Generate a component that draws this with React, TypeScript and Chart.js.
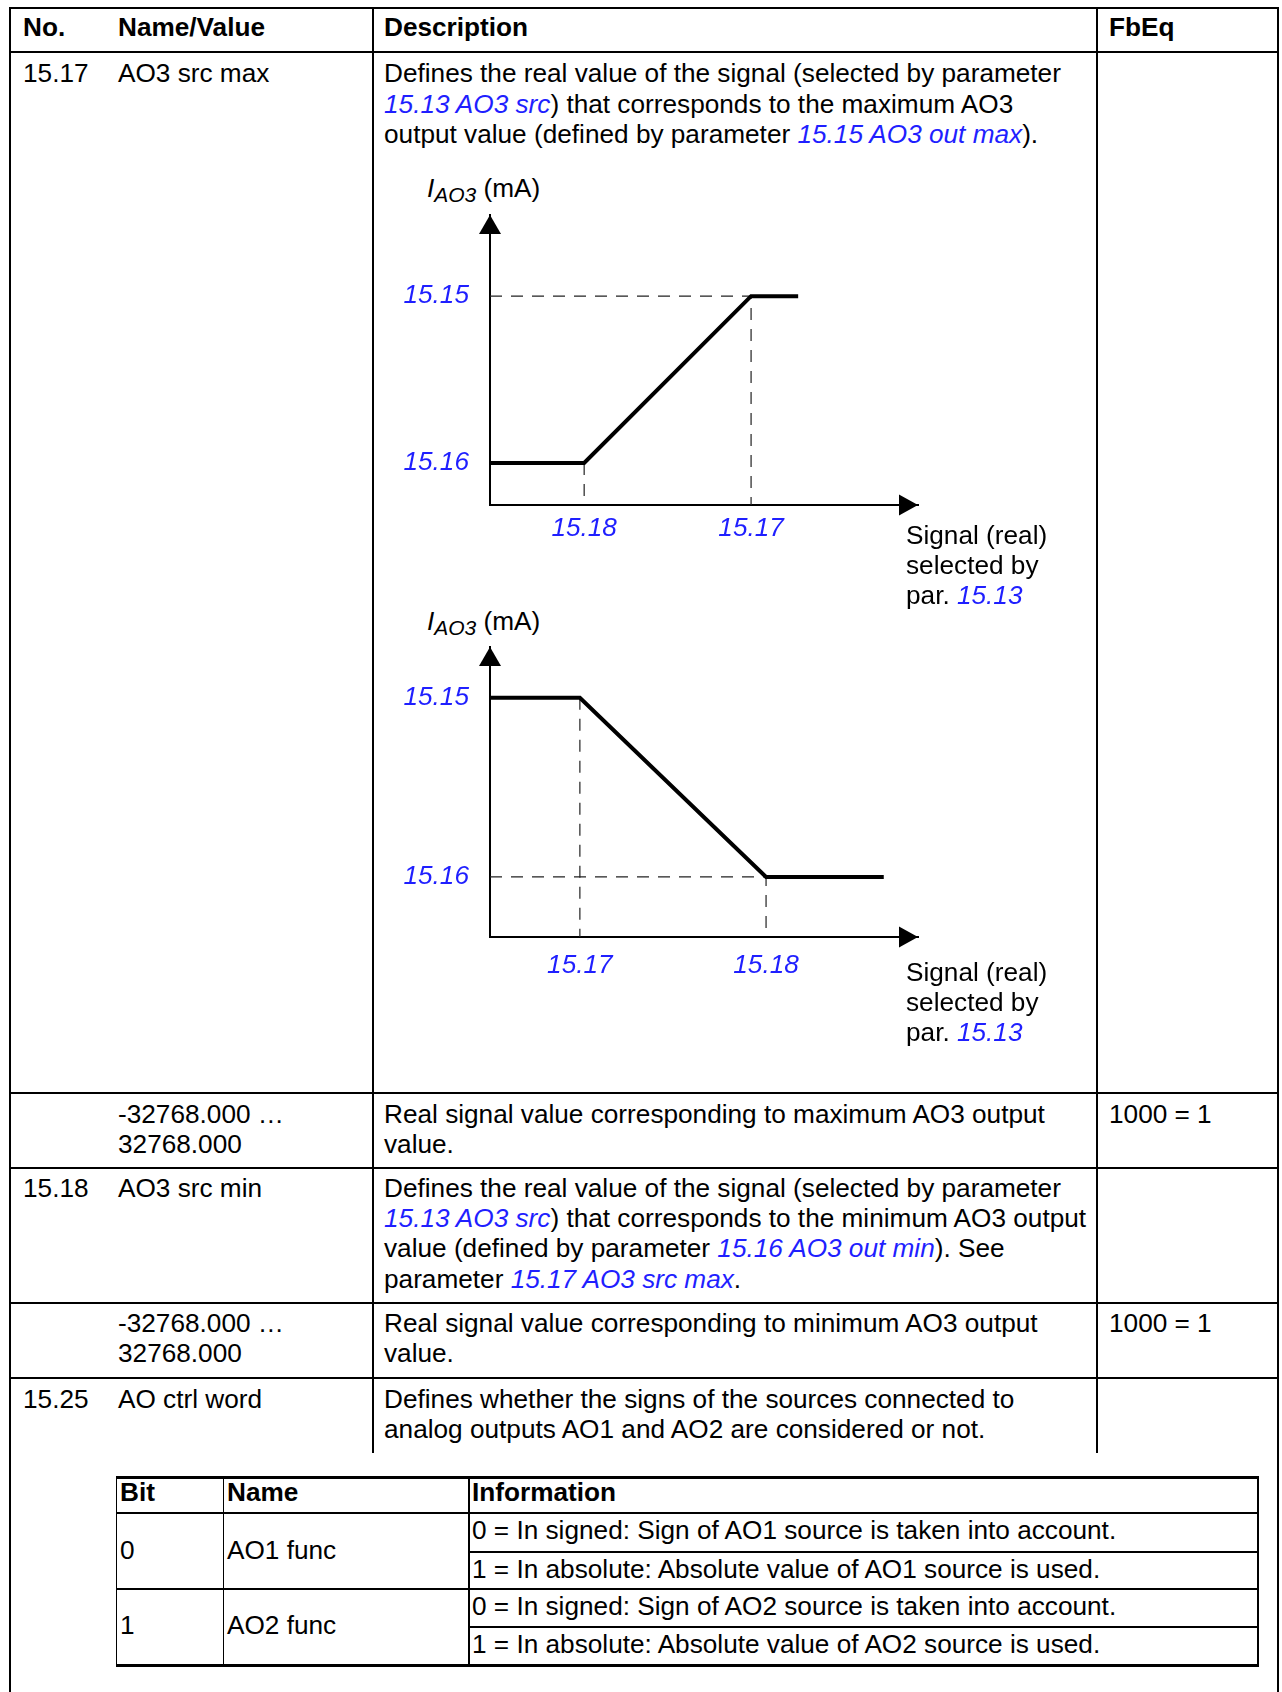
import React, { useEffect, useRef } from 'react';
import { Chart, registerables } from 'chart.js';

Chart.register(...registerables);

const BLUE = '#1f1fff';
const FONT = '"Liberation Sans", Arial, Helvetica, sans-serif';
const FS = 26.2;
const LH = 30.2;

// ---- Diagram 1 (rising characteristic) ----
const c1SignalX = [0, 2.2, 6.1, 7.2];
const c1Output = [1.45, 1.45, 7.2, 7.2];
const c1GuideMaxX = [0, 6.1, 6.1];
const c1GuideMaxY = [7.2, 7.2, 0];
const c1GuideMinX = [2.2, 2.2];
const c1GuideMinY = [1.45, 0];
const c1XTickValues = [2.2, 6.1];
const c1XTickLabels = ['15.18', '15.17'];
const c1YTickValues = [1.45, 7.2];
const c1YTickLabels = ['15.16', '15.15'];

// ---- Diagram 2 (falling characteristic) ----
const c2SignalX = [0, 2.1, 6.45, 9.2];
const c2Output = [8.25, 8.25, 2.07, 2.07];
const c2GuideAX = [2.1, 2.1];
const c2GuideAY = [8.25, 0];
const c2GuideBX = [0, 6.45, 6.45];
const c2GuideBY = [2.07, 2.07, 0];
const c2XTickValues = [2.1, 6.45];
const c2XTickLabels = ['15.17', '15.18'];
const c2YTickValues = [2.07, 8.25];
const c2YTickLabels = ['15.16', '15.15'];

const arrowPlugin = {
  id: 'axisArrows',
  afterDraw(chart: any) {
    const { ctx, chartArea } = chart;
    const { left, right, top, bottom } = chartArea;
    ctx.save();
    ctx.fillStyle = '#000';
    ctx.beginPath();
    ctx.moveTo(left, top);
    ctx.lineTo(left - 11, top + 19);
    ctx.lineTo(left + 11, top + 19);
    ctx.closePath();
    ctx.fill();
    ctx.beginPath();
    ctx.moveTo(right, bottom);
    ctx.lineTo(right - 19, bottom - 10.5);
    ctx.lineTo(right - 19, bottom + 10.5);
    ctx.closePath();
    ctx.fill();
    ctx.restore();
  },
};

type DiagramProps = {
  left: number;
  top: number;
  xs: number[];
  ys: number[];
  guides: [number[], number[]][];
  xTicks: number[];
  xLabels: string[];
  yTicks: number[];
  yLabels: string[];
  xLabelPad: number;
};

const W = 560;
const H = 365;

function Diagram(p: DiagramProps) {
  const ref = useRef<HTMLCanvasElement>(null);
  useEffect(() => {
    const pts = (xa: number[], ya: number[]) => xa.map((x, i) => ({ x, y: ya[i] }));
    const tickFont = { family: FONT, size: FS, style: 'italic' as const, lineHeight: 1.2 };
    const chart = new Chart(ref.current as HTMLCanvasElement, {
      type: 'line',
      data: {
        datasets: [
          {
            data: pts(p.xs, p.ys),
            borderColor: '#000',
            borderWidth: 4,
            pointRadius: 0,
            tension: 0,
            fill: false,
            borderJoinStyle: 'miter',
            borderCapStyle: 'butt',
          },
          ...p.guides.map((g) => ({
            data: pts(g[0], g[1]),
            borderColor: '#222',
            borderWidth: 1.2,
            borderDash: [12, 9],
            pointRadius: 0,
            tension: 0,
            fill: false,
          })),
        ],
      },
      options: {
        animation: false,
        responsive: false,
        events: [],
        layout: { padding: { top: 20, right: 22, left: 0, bottom: 0 } },
        plugins: { legend: { display: false }, tooltip: { enabled: false } },
        scales: {
          x: {
            type: 'linear',
            min: 0,
            max: 10,
            grid: { display: false, drawTicks: false },
            border: { display: true, color: '#000', width: 2 },
            afterBuildTicks: (s: any) => {
              s.ticks = p.xTicks.map((v) => ({ value: v }));
            },
            afterFit: (s: any) => {
              s.height = 55;
              s.paddingLeft = 0;
              s.paddingRight = 0;
            },
            ticks: {
              autoSkip: false,
              maxRotation: 0,
              minRotation: 0,
              padding: p.xLabelPad,
              color: BLUE,
              font: tickFont,
              callback: (_v: any, i: number) => p.xLabels[i],
            },
          },
          y: {
            type: 'linear',
            min: 0,
            max: 10,
            grid: { display: false, drawTicks: false },
            border: { display: true, color: '#000', width: 2 },
            afterBuildTicks: (s: any) => {
              s.ticks = p.yTicks.map((v) => ({ value: v }));
            },
            afterFit: (s: any) => {
              s.width = 110;
              s.paddingTop = 0;
              s.paddingBottom = 0;
            },
            ticks: {
              autoSkip: false,
              padding: 21,
              color: BLUE,
              font: tickFont,
              callback: (_v: any, i: number) => p.yLabels[i],
            },
          },
        },
      } as any,
      plugins: [arrowPlugin],
    });
    return () => chart.destroy();
  }, []);
  return (
    <canvas
      ref={ref}
      width={W}
      height={H}
      style={{ position: 'absolute', left: p.left, top: p.top, width: W, height: H, display: 'block' }}
    />
  );
}

function Ln({ x, y, w, h }: { x: number; y: number; w: number; h: number }) {
  return <div style={{ position: 'absolute', left: x, top: y, width: w, height: h, background: '#000' }} />;
}

function T({ x, y, bold, children }: { x: number; y: number; bold?: boolean; children: React.ReactNode }) {
  return (
    <div
      style={{
        position: 'absolute',
        left: x,
        top: y,
        whiteSpace: 'nowrap',
        fontFamily: FONT,
        fontSize: FS,
        lineHeight: LH + 'px',
        fontWeight: bold ? 700 : 400,
        color: '#000',
      }}
    >
      {children}
    </div>
  );
}

const B = ({ children }: { children: React.ReactNode }) => (
  <span style={{ color: BLUE, fontStyle: 'italic' }}>{children}</span>
);

function YTitle({ x, y }: { x: number; y: number }) {
  return (
    <div
      style={{
        position: 'absolute',
        left: x,
        top: y,
        whiteSpace: 'nowrap',
        fontFamily: FONT,
        fontSize: FS,
        lineHeight: '30px',
        color: '#000',
      }}
    >
      <span style={{ fontStyle: 'italic' }}>I</span>
      <span style={{ fontStyle: 'italic', fontSize: 21, position: 'relative', top: 5 }}>AO3</span> (mA)
    </div>
  );
}

function XTitle({ x, y }: { x: number; y: number }) {
  return (
    <T x={x} y={y}>
      Signal (real)
      <br />
      selected by
      <br />
      par. <B>15.13</B>
    </T>
  );
}

export default function App() {
  const col1 = 23;
  const col2 = 118;
  const col3 = 384;
  const col4 = 1109;
  return (
    <div
      style={{
        position: 'absolute',
        left: 0,
        top: 0,
        width: 1282,
        height: 1692,
        overflow: 'hidden',
        background: '#fff',
      }}
    >
      {/* main table grid */}
      <Ln x={9} y={7} w={1270} h={2} />
      <Ln x={9} y={7} w={2} h={1685} />
      <Ln x={1277} y={7} w={2} h={1685} />
      <Ln x={9} y={51} w={1270} h={2} />
      <Ln x={9} y={1092} w={1270} h={2} />
      <Ln x={9} y={1167} w={1270} h={2} />
      <Ln x={9} y={1302} w={1270} h={2} />
      <Ln x={9} y={1377} w={1270} h={2} />
      <Ln x={372} y={7} w={2} h={1446} />
      <Ln x={1096} y={7} w={2} h={1446} />

      {/* header */}
      <T x={col1} y={12} bold>No.</T>
      <T x={col2} y={12} bold>Name/Value</T>
      <T x={col3} y={12} bold>Description</T>
      <T x={col4} y={12} bold>FbEq</T>

      {/* 15.17 */}
      <T x={col1} y={58.4}>15.17</T>
      <T x={col2} y={58.4}>AO3 src max</T>
      <T x={col3} y={58.4}>
        Defines the real value of the signal (selected by parameter
        <br />
        <B>15.13 AO3 src</B>) that corresponds to the maximum AO3
        <br />
        output value (defined by parameter <B>15.15 AO3 out max</B>).
      </T>

      <YTitle x={427} y={173} />
      <Diagram
        left={380}
        top={195}
        xs={c1SignalX}
        ys={c1Output}
        guides={[
          [c1GuideMaxX, c1GuideMaxY],
          [c1GuideMinX, c1GuideMinY],
        ]}
        xTicks={c1XTickValues}
        xLabels={c1XTickLabels}
        yTicks={c1YTickValues}
        yLabels={c1YTickLabels}
        xLabelPad={8}
      />
      <XTitle x={906} y={520} />

      <YTitle x={427} y={606} />
      <Diagram
        left={380}
        top={627}
        xs={c2SignalX}
        ys={c2Output}
        guides={[
          [c2GuideAX, c2GuideAY],
          [c2GuideBX, c2GuideBY],
        ]}
        xTicks={c2XTickValues}
        xLabels={c2XTickLabels}
        yTicks={c2YTickValues}
        yLabels={c2YTickLabels}
        xLabelPad={13}
      />
      <XTitle x={906} y={957} />

      {/* value row */}
      <T x={col2} y={1099}>
        -32768.000 …<br />32768.000
      </T>
      <T x={col3} y={1099}>
        Real signal value corresponding to maximum AO3 output
        <br />
        value.
      </T>
      <T x={col4} y={1099}>1000 = 1</T>

      {/* 15.18 */}
      <T x={col1} y={1173}>15.18</T>
      <T x={col2} y={1173}>AO3 src min</T>
      <T x={col3} y={1173}>
        Defines the real value of the signal (selected by parameter
        <br />
        <B>15.13 AO3 src</B>) that corresponds to the minimum AO3 output
        <br />
        value (defined by parameter <B>15.16 AO3 out min</B>). See
        <br />
        parameter <B>15.17 AO3 src max</B>.
      </T>

      {/* value row */}
      <T x={col2} y={1308}>
        -32768.000 …<br />32768.000
      </T>
      <T x={col3} y={1308}>
        Real signal value corresponding to minimum AO3 output
        <br />
        value.
      </T>
      <T x={col4} y={1308}>1000 = 1</T>

      {/* 15.25 */}
      <T x={col1} y={1383.5}>15.25</T>
      <T x={col2} y={1383.5}>AO ctrl word</T>
      <T x={col3} y={1383.5}>
        Defines whether the signs of the sources connected to
        <br />
        analog outputs AO1 and AO2 are considered or not.
      </T>

      {/* bit table */}
      <Ln x={116} y={1476} w={1143} h={3} />
      <Ln x={116} y={1664} w={1143} h={3} />
      <Ln x={116} y={1512} w={1143} h={2} />
      <Ln x={116} y={1588} w={1143} h={2} />
      <Ln x={468} y={1551} w={791} h={2} />
      <Ln x={468} y={1626} w={791} h={2} />
      <Ln x={116} y={1476} w={1} h={191} />
      <Ln x={223} y={1476} w={1} h={191} />
      <Ln x={468} y={1476} w={2} h={191} />
      <Ln x={1257} y={1476} w={2} h={191} />

      <T x={120} y={1477} bold>Bit</T>
      <T x={227} y={1477} bold>Name</T>
      <T x={472} y={1477} bold>Information</T>

      <T x={120} y={1534.5}>0</T>
      <T x={227} y={1534.5}>AO1 func</T>
      <T x={472} y={1515}>0 = In signed: Sign of AO1 source is taken into account.</T>
      <T x={472} y={1554}>1 = In absolute: Absolute value of AO1 source is used.</T>

      <T x={120} y={1610}>1</T>
      <T x={227} y={1610}>AO2 func</T>
      <T x={472} y={1591}>0 = In signed: Sign of AO2 source is taken into account.</T>
      <T x={472} y={1629}>1 = In absolute: Absolute value of AO2 source is used.</T>
    </div>
  );
}
